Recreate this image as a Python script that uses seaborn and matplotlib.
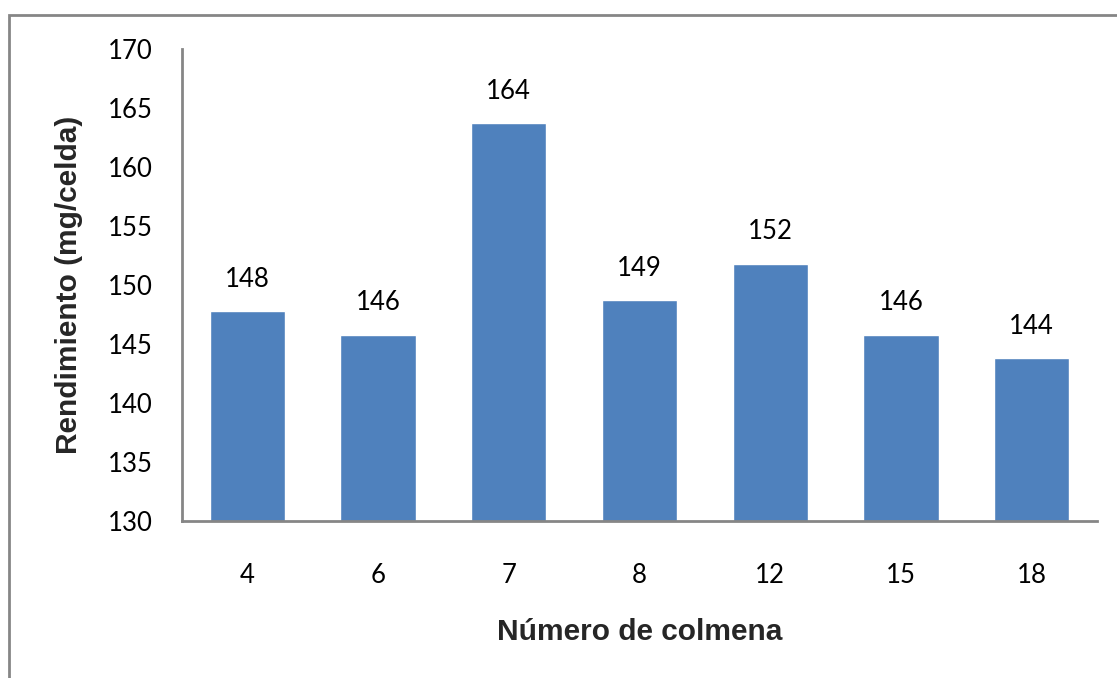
import matplotlib
matplotlib.use("Agg")
import matplotlib.pyplot as plt
from matplotlib.patches import Rectangle
import seaborn as sns
import pandas as pd

# Yield per hive
colmenas = ["4", "6", "7", "8", "12", "15", "18"]
rendimiento = [147.8, 145.8, 163.7, 148.7, 151.8, 145.8, 143.8]

y_ticks = [130, 135, 140, 145, 150, 155, 160, 165, 170]

df = pd.DataFrame({"colmena": colmenas, "rendimiento": rendimiento})

sns.set_theme(style="white")
plt.rcParams["font.family"] = ["Lato", "DejaVu Sans"]

fig = plt.figure(figsize=(11.17, 6.78), dpi=100)
ax = fig.add_axes([0.1629, 0.2316, 0.8192, 0.6961])

bar_color = "#4F81BD"
sns.barplot(data=df, x="colmena", y="rendimiento", order=colmenas,
            color=bar_color, saturation=1, width=0.575, ax=ax)

ax.set_ylim(130, 170)
ax.set_yticks(y_ticks)
ax.set_yticklabels([str(t) for t in y_ticks])
ax.tick_params(axis="both", length=0, labelsize=18.5, colors="black")
ax.tick_params(axis="y", pad=21)
ax.tick_params(axis="x", pad=30)

for spine in ["top", "right"]:
    ax.spines[spine].set_visible(False)
for spine in ["left", "bottom"]:
    ax.spines[spine].set_color("#868686")
    ax.spines[spine].set_linewidth(2)

# value labels above each bar
for i, v in enumerate(rendimiento):
    ax.annotate(f"{v:.0f}", xy=(i, v), xytext=(0, 14), textcoords="offset points",
                ha="center", va="bottom", fontsize=18.5, color="black")

label_font = dict(family=["Liberation Sans", "DejaVu Sans"], weight="bold", size=21.5)
ax.set_xlabel("Número de colmena", labelpad=22, **label_font)
ax.set_ylabel("Rendimiento (mg/celda)", labelpad=18, **label_font)

# chart border (open on the right and bottom edges)
fig.patches.append(Rectangle((9 / 1117, -0.1), 1.2, 1 - 15 / 678 + 0.1,
                             transform=fig.transFigure, fill=False,
                             edgecolor="#868686", linewidth=2))

fig.savefig("out.png", dpi=100)
